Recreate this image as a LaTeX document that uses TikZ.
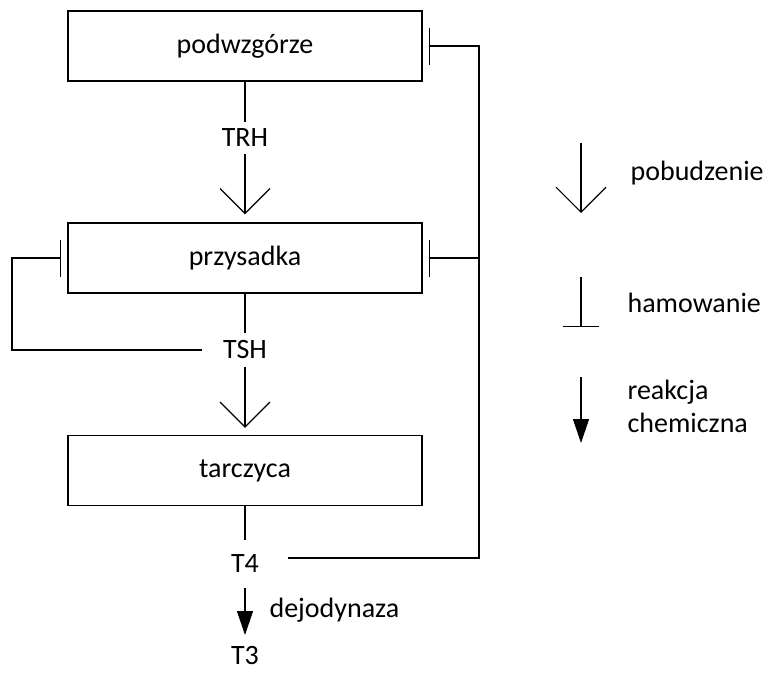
\documentclass[tikz,border=0pt]{standalone}
\usepackage{fontspec}
\setmainfont{Carlito}
\usetikzlibrary{arrows.meta}
\begin{document}
\begin{tikzpicture}[x=1pt,y=-1pt, line width=1.2pt,
  every node/.style={font=\fontsize{28}{33}\selectfont},
  box/.style={draw, minimum width=354pt, minimum height=70pt, inner sep=0pt},
  lbl/.style={inner sep=0pt},
  stim/.style={-{Straight Barb[length=25pt,width=50pt]}},
  inhib/.style={-{Bar[width=37pt]}},
  chem/.style={-{Triangle[length=24pt,width=16pt]}}]
\useasboundingbox (0,0) rectangle (763,672);
% boxes
\node[box] (pod) at (245,46) {podwzgórze};
\node[box] (prz) at (245,258) {przysadka};
\node[box] (tar) at (245,470.5) {tarczyca};
% labels
\node[lbl, minimum height=30pt] (trh) at (245,138) {TRH};
\node[lbl, minimum width=84pt, minimum height=33pt] (tsh) at (245,350) {TSH};
\node[lbl, minimum width=84pt, minimum height=46pt] (t4) at (245,564) {T4};
\node[lbl, anchor=north] (t3) at (245,646) {T3};
\node[lbl, anchor=west] (dej) at (269,610) {dejodynaza};
% main chain
\draw (pod) -- (trh);
\draw[stim, shorten >=8pt] (trh) -- (prz);
\draw (prz) -- (tsh);
\draw[stim, shorten >=7pt] (tsh) -- (tar);
\draw (tar) -- (t4);
\draw[chem, shorten >=11pt] (t4) -- (t3);
% feedback right
\coordinate (j1) at (479,46);
\coordinate (j2) at (479,258);
\coordinate (c4) at (479,558);
\draw[inhib] (t4.east |- c4) -- (c4) -- (j1) -- ([xshift=6pt]pod.east);
\draw[inhib] (j2) -- ([xshift=6pt]prz.east);
% feedback left
\coordinate (l1) at (12,350);
\coordinate (l2) at (12,258);
\draw[inhib] (tsh.west) -- (l1) -- (l2) -- ([xshift=-6pt]prz.west);
% legend
\coordinate (a1) at (581,143);
\coordinate (a2) at (581,213);
\draw[stim] (a1) -- (a2);
\node[lbl, anchor=west] (pob) at (630,173) {pobudzenie};
\coordinate (b1) at (581,277);
\coordinate (b2) at (581,327);
\draw[-{Bar[width=36pt]}] (b1) -- (b2);
\node[lbl, anchor=west] (ham) at (627,303) {hamowanie};
\coordinate (r1) at (581,377);
\coordinate (r2) at (581,443);
\draw[chem] (r1) -- (r2);
\node[lbl, anchor=west, align=left] (rea) at (627,406) {reakcja\\chemiczna};
\end{tikzpicture}
\end{document}
